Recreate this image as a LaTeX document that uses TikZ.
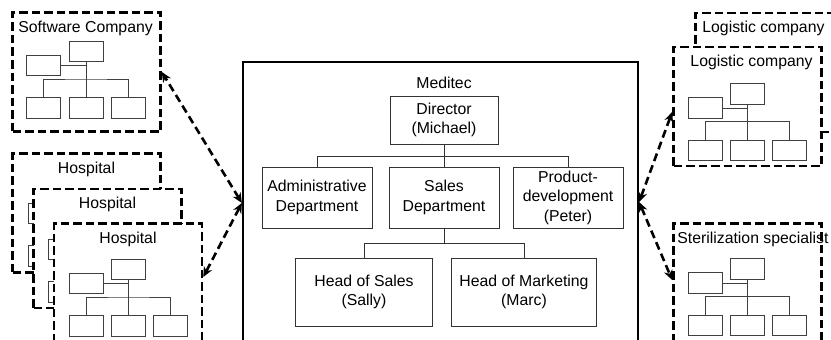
\documentclass[tikz,border=0pt]{standalone}
\usepackage{fontspec}
\setmainfont{Liberation Sans}
\usetikzlibrary{positioning,arrows.meta}

\begin{document}
\begin{tikzpicture}[x=1pt,y=-1pt,on grid,
    font=\fontsize{15.8}{19.5}\selectfont,
    orgbox/.style={draw=black!80, line width=1pt, align=center, inner sep=0pt, fill=white},
    orgline/.style={draw=black!80, line width=1pt},
    dept/.style={orgbox, minimum width=110pt, minimum height=61pt},
    head/.style={orgbox, minimum height=68pt},
    company/.style={draw, line width=2.6pt, dash pattern=on 8.5pt off 4pt, fill=white,
                    minimum width=148pt, minimum height=119pt, inner sep=0pt},
    boxlabel/.style={inner sep=0pt},
    minibox/.style={draw=black!75, line width=0.9pt, fill=white, inner sep=0pt,
                    minimum width=34pt, minimum height=20.5pt},
    minilink/.style={draw=black!75, line width=0.9pt},
    link/.style={line width=2.6pt, dash pattern=on 8pt off 4.5pt,
                 arrows={Stealth[length=10pt,width=9pt]-Stealth[length=10pt,width=9pt]}},
    orgchart/.pic={
      \node[minibox] (-top) at (0,0) {};
      \node[minibox] (-left) at (-42.5,14) {};
      \node[minibox] (-b1) at (-42.5,56.5) {};
      \node[minibox] (-b2) at (0,56.5) {};
      \node[minibox] (-b3) at (42,56.5) {};
      \coordinate (-mid) at (0,27.5);
      \draw[minilink] (-top) -- (-mid);
      \draw[minilink] (-left) -- (-left -| -top);
      \draw[minilink] (-b1) |- (-mid) -| (-b3);
      \draw[minilink] (-mid) -- (-b2);
    }]
  \clip (0,0) rectangle (831,340);

  % Meditec
  \node[draw, line width=2.2pt, minimum width=395pt, minimum height=340pt, inner sep=0pt] (meditec) at (440.5,232) {};
  \node[orgbox, minimum width=108pt, minimum height=48pt] (dir) at (444,120) {Director\\(Michael)};
  \node[boxlabel] (mlabel) [above=37pt of dir] {Meditec};
  \node[dept] (sales) [below=77.5pt of dir] {Sales\\Department};
  \node[dept] (admin) [left=127pt of sales] {Administrative\\Department};
  \node[dept] (prod) [right=124pt of sales] {Product-\\development\\(Peter)};
  \node[head, minimum width=137pt] (hos) [below left=94.5pt and 80pt of sales] {Head of Sales\\(Sally)};
  \node[head, minimum width=145pt] (hom) [below right=94.5pt and 80pt of sales] {Head of Marketing\\(Marc)};
  \draw[orgline] (dir.south) -- ++(0,12) coordinate (dsplit);
  \draw[orgline] (admin) |- (dsplit) -| (prod);
  \draw[orgline] (dsplit) -- (sales);
  \draw[orgline] (sales.south) -- ++(0,15) coordinate (ssplit);
  \draw[orgline] (hos) |- (ssplit) -| (hom);

  % partners on the left
  \node[company] (sw) at (86.5,72) {};
  \node[boxlabel, anchor=base west] at ([xshift=7pt,yshift=-21pt]sw.north west) {Software Company};
  \pic (swc) at (86,51.5) {orgchart};

  \node[company] (hs1) at (86.5,213) {};
  \node[boxlabel, anchor=base] at ([yshift=-21pt]hs1.north) {Hospital};
  \pic (hc1) at (87.5,199.5) {orgchart};
  \node[company] (hs2) at (107.5,248.5) {};
  \node[boxlabel, anchor=base] at ([yshift=-21pt]hs2.north) {Hospital};
  \pic (hc2) at (107.5,235.5) {orgchart};
  \node[company] (hs3) at (128,283) {};
  \node[boxlabel, anchor=base] at ([yshift=-21pt]hs3.north) {Hospital};
  \pic (hc3) at (128.5,269.5) {orgchart};

  % partners on the right
  \node[company] (lgb) at (769.5,72.5) {};
  \node[boxlabel, anchor=base west] at ([xshift=8pt,yshift=-21pt]lgb.north west) {Logistic company};
  \node[company] (lgf) at (747.5,106.5) {};
  \node[boxlabel, anchor=base] at ([xshift=4pt,yshift=-21pt]lgf.north) {Logistic company};
  \pic (lgc) at (747.5,94) {orgchart};

  \node[company] (st) at (747.5,283) {};
  \node[boxlabel, anchor=base west] at ([xshift=5pt,yshift=-21pt]st.north west) {Sterilization specialist};
  \pic (stc) at (747.5,269) {orgchart};

  \coordinate (lhub) at ([yshift=29pt]meditec.west);
  \coordinate (rhub) at ([yshift=30pt]meditec.east);
  \draw[link] (lhub) -- (sw.east);
  \draw[link] (lhub) -- ([yshift=6pt]hs3.east);
  \draw[link] (rhub) -- ([yshift=-5.5pt]lgf.west);
  \draw[link] (rhub) -- ([yshift=3pt]st.west);
\end{tikzpicture}
\end{document}
